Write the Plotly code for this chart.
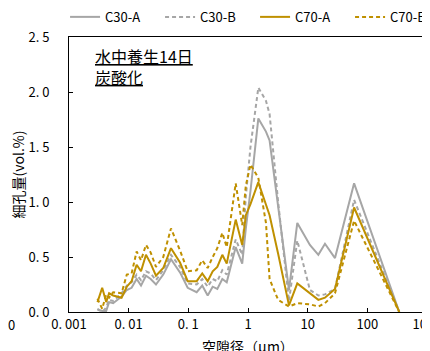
import plotly.graph_objects as go

# pore diameter (μm)
diam = [0.003, 0.0036, 0.0042, 0.0047, 0.0055, 0.0076, 0.0093, 0.0112, 0.0136, 0.0161,
        0.0195, 0.0234, 0.0287, 0.038, 0.0512, 0.0725, 0.0975, 0.138, 0.171, 0.211,
        0.256, 0.306, 0.371, 0.44, 0.622, 0.80, 0.92, 1.1, 1.49, 2.0,
        2.3, 3.2, 4.86, 6.7, 10.9, 15.1, 19.5, 28.7, 60, 343]

c30a = [0.02, 0.01, 0.01, 0.09, 0.08, 0.14, 0.20, 0.22, 0.30, 0.24,
        0.33, 0.30, 0.25, 0.34, 0.48, 0.36, 0.22, 0.18, 0.24, 0.15,
        0.23, 0.21, 0.30, 0.27, 0.59, 0.44, 0.76, 1.10, 1.76, 1.64,
        1.56, 0.98, 0.20, 0.81, 0.61, 0.52, 0.62, 0.49, 1.17, 0.0]

c30b = [0.03, 0.00, 0.04, 0.11, 0.10, 0.17, 0.24, 0.27, 0.34, 0.29,
        0.37, 0.35, 0.29, 0.38, 0.52, 0.41, 0.26, 0.25, 0.30, 0.23,
        0.30, 0.28, 0.38, 0.34, 0.66, 0.52, 1.05, 1.50, 2.04, 1.92,
        1.80, 1.00, 0.10, 0.65, 0.20, 0.15, 0.16, 0.21, 1.02, 0.0]

c70a = [0.09, 0.22, 0.09, 0.17, 0.15, 0.13, 0.23, 0.28, 0.43, 0.37,
        0.52, 0.44, 0.33, 0.40, 0.58, 0.45, 0.28, 0.28, 0.35, 0.28,
        0.37, 0.41, 0.52, 0.44, 0.84, 0.61, 0.88, 0.98, 1.18, 0.98,
        0.88, 0.53, 0.06, 0.26, 0.17, 0.11, 0.13, 0.21, 0.95, 0.0]

c70b = [0.12, 0.03, 0.16, 0.13, 0.18, 0.17, 0.34, 0.35, 0.55, 0.47,
        0.61, 0.54, 0.41, 0.50, 0.76, 0.56, 0.37, 0.38, 0.47, 0.40,
        0.50, 0.58, 0.72, 0.59, 1.17, 0.79, 1.15, 1.34, 1.22, 0.81,
        0.30, 0.11, 0.05, 0.08, 0.07, 0.05, 0.08, 0.17, 0.83, 0.0]

series_names = ["C30-A", "C30-B", "C70-A", "C70-B"]
NB = "\u00a0"
x_tickvals = [0.001, 0.01, 0.1, 1, 10, 100, 1000]
x_ticktext = ["0." + NB + "001", "0." + NB + "01", "0." + NB + "1", "1", "10", "100", "1000"]
y_tickvals = [0, 0.5, 1.0, 1.5, 2.0, 2.5]
y_ticktext = ["0." + NB + "0", "0." + NB + "5", "1." + NB + "0", "1." + NB + "5",
              "2." + NB + "0", "2." + NB + "5"]

GRAY = "#A6A6A6"
GOLD = "#BF9000"
FONT = "Noto Sans CJK JP"

fig = go.Figure()
styles = [(GRAY, "solid"), (GRAY, "4px,3px"), (GOLD, "solid"), (GOLD, "4px,3px")]
for name, ys, (col, dash) in zip(series_names, [c30a, c30b, c70a, c70b], styles):
    fig.add_trace(go.Scatter(x=diam, y=ys, name=name, mode="lines",
                             line=dict(color=col, width=2, dash=dash)))

# page body adds an 8px offset; margins compensate so the plot lands where the reference has it
fig.update_layout(
    width=430, height=351,
    margin=dict(l=61, r=11, t=29, b=47, autoexpand=False),
    paper_bgcolor="white", plot_bgcolor="white",
    font=dict(family=FONT, size=13, color="#000"),
    legend=dict(orientation="h", x=-0.011, xanchor="left", y=1.073, yanchor="middle",
                entrywidth=50, entrywidthmode="pixels", font=dict(size=13),
                bgcolor="rgba(0,0,0,0)", itemwidth=30),
    showlegend=True,
)
fig.update_xaxes(type="log", range=[-3, 3], tickvals=x_tickvals, ticktext=x_ticktext,
                 showgrid=False, showline=True, linecolor="#000", linewidth=1, mirror=True,
                 ticks="inside", ticklen=4, tickcolor="#000", zeroline=False,
                 tickfont=dict(size=13), automargin=False, ticklabeloverflow="allow",
                 title=dict(text="空隙径（μm）", font=dict(size=14), standoff=10))
fig.update_yaxes(range=[0, 2.5], tickvals=y_tickvals, ticktext=y_ticktext,
                 showgrid=False, showline=True, linecolor="#000", linewidth=1, mirror=True,
                 ticks="inside", ticklen=4, tickcolor="#000", zeroline=False,
                 tickfont=dict(size=13), ticklabelstandoff=16, automargin=False,
                 title=dict(text="細孔量(vol.%)", font=dict(size=14), standoff=1))

fig.add_annotation(xref="paper", yref="paper", x=0.067, y=0.983, xanchor="left", yanchor="top",
                   text="<u>水中養生14日</u><br><u>炭酸化</u>", showarrow=False, align="left",
                   font=dict(size=16, family=FONT))
fig.add_annotation(xref="paper", yref="paper", x=-0.16, y=-0.047, xanchor="center", yanchor="middle",
                   text="0", showarrow=False, font=dict(size=13, family=FONT))

fig.write_html("out.html")
